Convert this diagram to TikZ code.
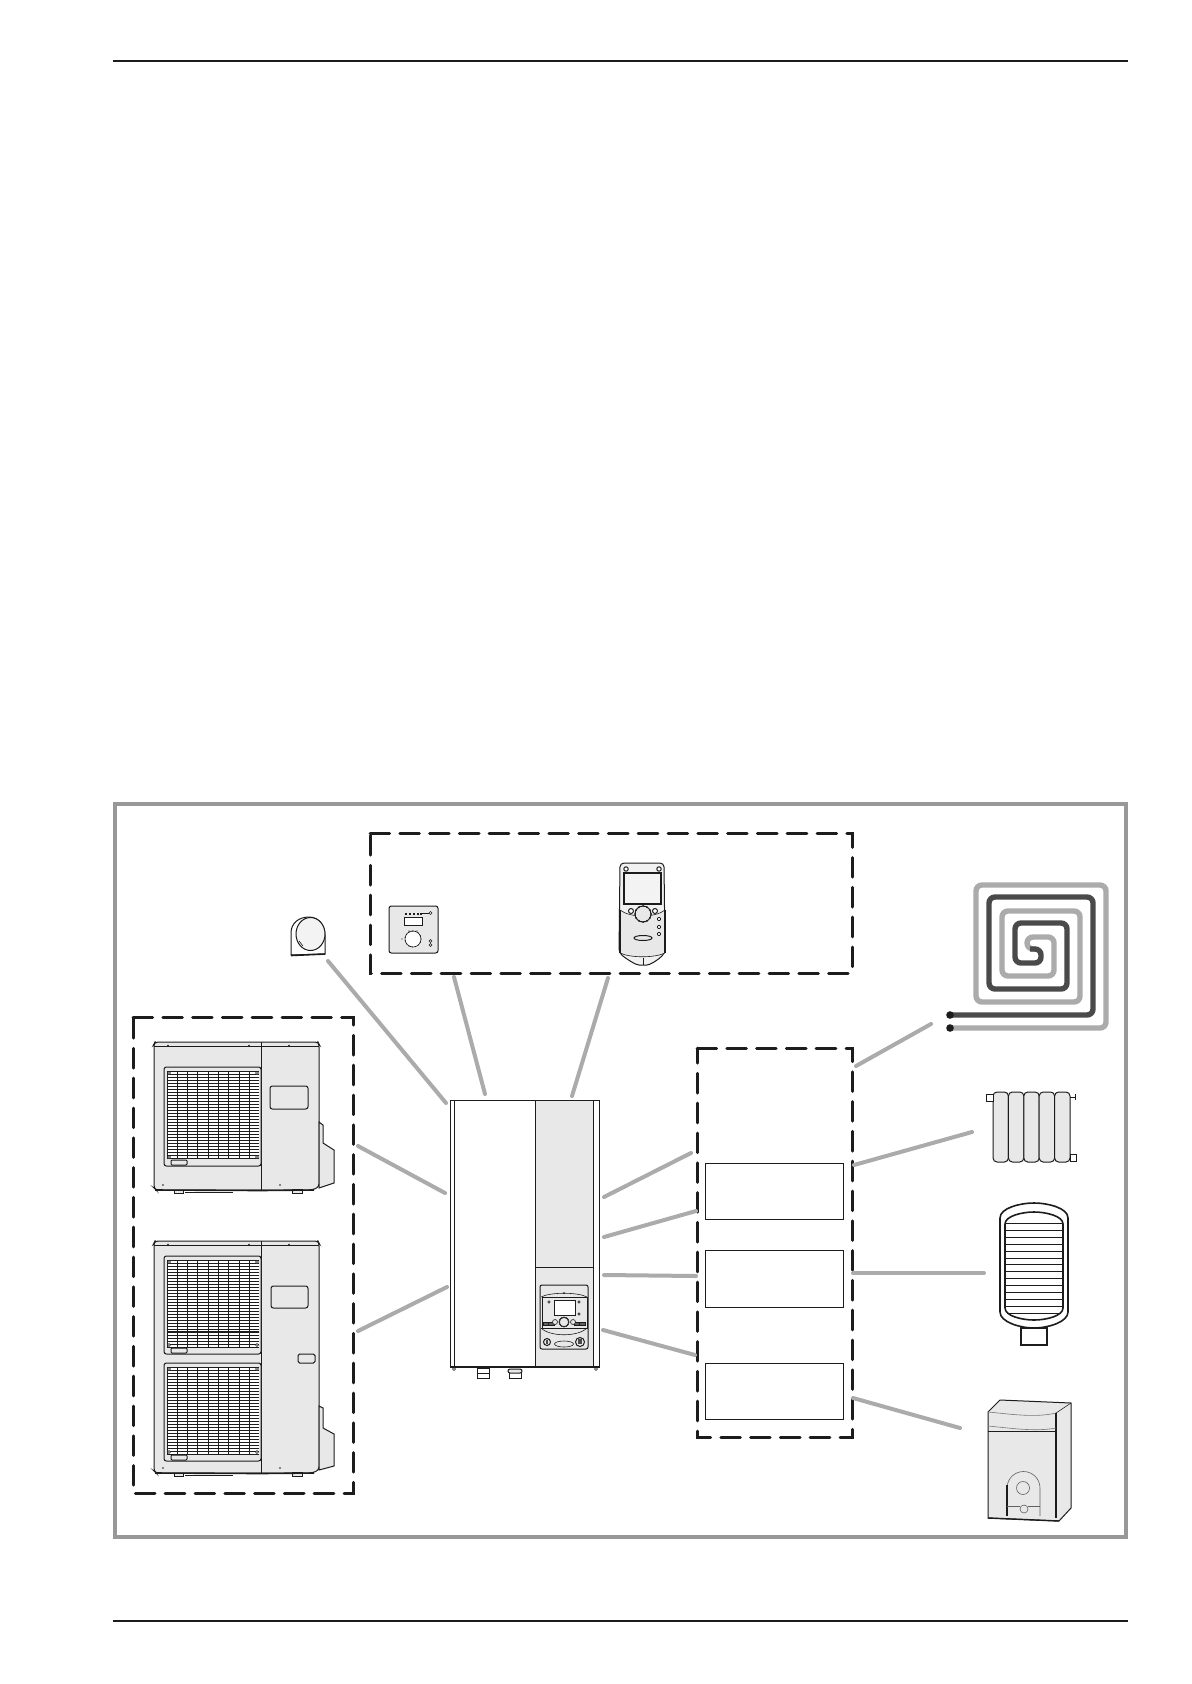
\documentclass[tikz,border=0pt]{standalone}
\usetikzlibrary{positioning,calc}
\definecolor{panelgray}{HTML}{E8E8E8}
\definecolor{wiregray}{HTML}{ABABAB}
\definecolor{framegray}{HTML}{989898}
\definecolor{darkcoil}{HTML}{4A4A4A}
\definecolor{inkblack}{HTML}{1C1C1C}
\tikzset{
  wire/.style={draw=wiregray,line width=2pt,line cap=round},
  dashbox/.style={draw=inkblack,line width=1.5pt,dash pattern=on 9.8pt off 5.1pt,line cap=round},
  devline/.style={draw=inkblack,line width=0.5pt},
  thinline/.style={draw=inkblack,line width=0.3pt},
  innerbox/.style={draw=inkblack,line width=0.4pt,minimum width=69pt,minimum height=28pt,inner sep=0pt,anchor=north west},
  pics/grillepanel/.style={code={
    \draw[devline,fill=panelgray,rounded corners=1.2pt] (0,0) rectangle (97,#1);
    \fill[white] (3,4) rectangle (95,#1-7);
    \foreach \yy in {4,7,...,92} \draw[thinline,line width=0.45pt] (3,\yy) -- (95,\yy);
    \foreach \xx in {3,13.3,...,95} \draw[thinline,line width=0.45pt] (\xx,4) -- (\xx,#1-7);
    \foreach \xx/\yy in {5/6,93/6,5/#1-9,93/#1-9} \draw[thinline,fill=panelgray] (\xx,\yy) circle[radius=1.5];
    \draw[devline,fill=panelgray,rounded corners=0.5pt] (7,#1-6) rectangle (23,#1-1);
  }},
  pics/outdoorbody/.style={code={
    \draw[devline,fill=panelgray,rounded corners=1.5pt] (0,2) -- (1,0) -- (164,0) -- (165,2) -- (165,#1-3) -- (158,#1) -- (2,#1) -- (0,#1-2) -- cycle;
    \draw[thinline] (0,4) -- (165,4);
    \draw[devline] (107,0) -- (107,#1);
    \foreach \xx in {14,95,135} \fill[inkblack] (\xx,3.5) circle[radius=0.9];
    \foreach \xx in {9,126} \fill[inkblack] (\xx,#1-5) circle[radius=0.9];
    \draw[devline,fill=panelgray] (20,#1) rectangle (29,#1+3);
    \draw[devline,fill=panelgray] (138,#1-1) rectangle (148,#1+3);
    \draw[thinline] (31,#1+2) -- (79,#1+2);
    \draw[devline,line width=0.8pt] (1,#1) -- (107,#1+0.5) -- (160,#1);
  }}
}
\begin{document}
\begin{tikzpicture}[x=0.5pt,y=-0.5pt]
\useasboundingbox (0,0) rectangle (1191,1684);
\fill[white] (0,0) rectangle (1191,1684);

% page rules and frame
\draw[inkblack,line width=0.55pt] (113,61) -- (1128,61);
\draw[inkblack,line width=0.55pt] (113,1621) -- (1128,1621);
\draw[framegray,line width=1.8pt] (115,804) rectangle (1126,1537);

% dashed groups
\draw[dashbox] (370,833) -- (852,833) -- (852,973) -- (370,973) -- cycle;
\draw[dashbox] (133,1017) -- (353,1017) -- (353,1493) -- (133,1493) -- cycle;
\draw[dashbox] (697,1048) -- (852,1048) -- (852,1437) -- (697,1437) -- cycle;
\node[innerbox] (bufferbox) at (705,1163) {};
\node[innerbox,minimum height=28.5pt] (tankbox) at (705,1250) {};
\node[innerbox] (boilerbox) at (705,1363) {};

% outdoor unit, single fan
\begin{scope}[shift={(154,1042)}]
  \pic {outdoorbody=148};
  \pic at (10,25) {grillepanel=99};
  \draw[devline,rounded corners=1.2pt] (116,44) rectangle (154,67);
  \draw[devline,fill=panelgray] (165,80) -- (169,83) -- (169,101) -- (180,108) -- (180,141) -- (165,146) -- cycle;
\end{scope}

% outdoor unit, two fans
\begin{scope}[shift={(154,1241)}]
  \pic {outdoorbody=232};
  \pic at (10,15) {grillepanel=98};
  \pic at (10,122) {grillepanel=98};
  \draw[inkblack,line width=0.9pt] (13,91) -- (105,91);
  \draw[devline,rounded corners=1.2pt] (117,45) rectangle (154,67);
  \draw[devline,rounded corners=0.8pt] (144,113) rectangle (161,122);
  \draw[devline,fill=panelgray] (165,165) -- (169,167) -- (169,187) -- (180,193) -- (180,225) -- (165,229) -- cycle;
\end{scope}

% indoor unit
\draw[devline,fill=panelgray] (535,1100) rectangle (593,1367);
\draw[devline] (450,1100) rectangle (599,1367);
\draw[devline] (454,1100) -- (454,1367);
\draw[devline] (535,1267) -- (593,1267);
\draw[devline,line width=1pt] (450,1367) -- (599,1367);
\foreach \xx in {454,596} \draw[thinline] (\xx,1369) circle[radius=1.5];
\draw[devline] (477,1368) rectangle (489,1378);
\draw[devline] (477,1373) -- (489,1373);
\draw[devline] (509,1370) rectangle (521,1378);
\draw[devline,fill=panelgray,rounded corners=1pt] (508,1369) rectangle (522,1373);
% indoor unit control panel
\draw[devline,rounded corners=1pt] (540,1285) rectangle (588,1349);
\draw[thinline] (541,1297) .. controls (550,1292) and (578,1292) .. (587,1297);
\fill[inkblack] (564,1293) circle[radius=1];
\draw[devline] (542,1297) rectangle (587,1328);
\draw[devline,fill=white] (554,1300) rectangle (575,1315);
\foreach \xx/\yy in {549/1302,579/1302,579/1314} \draw[thinline] (\xx,\yy) circle[radius=1.2];
\foreach \xx in {546,551,577,582} \draw[thinline,fill=inkblack!70] (\xx-3,1322) rectangle (\xx+3,1325);
\draw[thinline,fill=panelgray] (555,1322) circle[radius=2.5] (573,1322) circle[radius=2.5];
\draw[thinline,fill=panelgray] (564,1322) circle[radius=5];
\foreach \aa in {0,30,...,330} \fill[inkblack] ({564+4.5*cos(\aa)},{1322+4.5*sin(\aa)}) circle[radius=0.9];
\draw[thinline] (541,1328) .. controls (550,1337) and (578,1337) .. (587,1328);
\draw[devline,fill=panelgray] (547,1342) circle[radius=3.5];
\draw[devline,fill=panelgray] (580,1342) circle[radius=4.5];
\fill[inkblack!80] (546,1340) rectangle (548,1344);
\fill[inkblack!80] (578,1339) rectangle (582,1344);
\draw[thinline] (564,1344) ellipse[x radius=9.5,y radius=3];

% room sensor
\draw[devline,fill=white] (291,955) -- (291,933) .. controls (291,923) and (299,917) .. (309,917) .. controls (319,917) and (325,926) .. (325,935) -- (325,954) -- cycle;
\draw[devline,fill=panelgray!50] (310.5,934) ellipse[x radius=14.5,y radius=16.5];
\draw[devline,line width=0.8pt] (291,955.5) -- (325,954);
\draw[thinline] (299,941) -- (303,946);

% wall thermostat
\draw[devline,fill=panelgray,rounded corners=1.2pt] (389,906) rectangle (438,953);
\draw[thinline,fill=white] (404,917) rectangle (422,925);
\foreach \xx in {405,409,413,417,420} \fill[inkblack] (\xx,913) rectangle +(1.8,1.8);
\draw[thinline] (420,913.5) -- (429,913.5);
\draw[thinline,fill=white] (430.5,913) circle[radius=1.5];
\draw[thinline,fill=white] (413,939) circle[radius=8];
\foreach \aa in {0,24,...,336} \fill[inkblack] ({413+8*cos(\aa)},{939+8*sin(\aa)}) circle[radius=0.6];
\foreach \xx in {409,413,417} \fill[inkblack] (\xx,931) circle[radius=0.6];
\fill[inkblack] (402,939) circle[radius=0.6];
\draw[thinline] (430.5,941) circle[radius=1.5] (430.5,945) circle[radius=1.5];

% remote control
\draw[devline,fill=panelgray!60,rounded corners=2pt] (620,863) -- (664,863) -- (665,953) .. controls (658,960) and (650,965) .. (643,965) .. controls (636,965) and (628,960) .. (619,953) -- cycle;
\fill[panelgray] (620,910) .. controls (630,918) and (655,918) .. (665,910) -- (665,953) .. controls (655,958) and (630,958) .. (620,953) -- cycle;
\draw[inkblack,line width=1pt,fill=panelgray!50] (624,873) rectangle (661,904);
\draw[devline,fill=white] (626,869) circle[radius=2.2] (659,869) circle[radius=2.2];
\draw[inkblack,line width=1pt] (619.5,910) -- (619.5,953) (665,910) -- (665,953);
\draw[thinline] (620,953) .. controls (630,958) and (655,958) .. (665,953);
\draw[thinline] (643,958) -- (643,965);
\draw[thinline] (620,910) .. controls (630,918) and (655,918) .. (665,910);
\draw[devline,fill=white] (631,911) circle[radius=2.5] (655,911) circle[radius=2.5];
\draw[devline,fill=panelgray] (643,914) circle[radius=8];
\foreach \aa in {0,30,...,330} \fill[inkblack] ({643+8*cos(\aa)},{914+8*sin(\aa)}) circle[radius=1];
\foreach \yy in {919,927,934} \draw[thinline,rounded corners=0.4pt] (657.5,\yy-1.5) rectangle (660.5,\yy+1.5);
\draw[devline] (643,938) ellipse[x radius=9,y radius=2.5];

% floor coil
\draw[wiregray,line width=2.7pt,rounded corners=3pt] (950,1028) -- (1106,1028) -- (1106,885) -- (976,885) -- (976,1002) -- (1080,1002) -- (1080,911) -- (1002,911) -- (1002,976) -- (1054,976) -- (1054,937) -- (1027,937) -- (1027,949) -- (1036,949);
\draw[darkcoil,line width=2.7pt,rounded corners=3pt] (950,1015) -- (1093,1015) -- (1093,897) -- (989,897) -- (989,989) -- (1067,989) -- (1067,923) -- (1015,923) -- (1015,963) -- (1041,963) -- (1041,949) -- (1030,949);
\fill[inkblack] (950,1015) circle[radius=3.8] (950,1028) circle[radius=3.8];

% radiator
\foreach \xx in {993,1008.4,1023.8,1039.2,1054.6} \draw[devline,fill=panelgray,rounded corners=2pt] (\xx,1092) rectangle (\xx+15.4,1162);
\draw[thinline,fill=white] (986,1094) rectangle (993,1101);
\draw[thinline,fill=white] (1070,1154) rectangle (1076,1161);
\draw[thinline] (1070,1097) -- (1075,1097) (1075,1094) -- (1075,1100);

% storage tank
\draw[devline,line width=0.8pt] (1021,1328) rectangle (1047,1345);
\draw[devline,line width=0.8pt,fill=white] (1000,1218) .. controls (1000,1208) and (1020,1203) .. (1034,1203) .. controls (1048,1203) and (1068,1208) .. (1068,1218) -- (1068,1312) .. controls (1068,1322) and (1048,1328) .. (1034,1328) .. controls (1020,1328) and (1000,1322) .. (1000,1312) -- cycle;
\begin{scope}
  \clip (1005,1224) .. controls (1005,1216) and (1022,1212) .. (1034,1212) .. controls (1046,1212) and (1063,1216) .. (1063,1224) -- (1063,1308) .. controls (1063,1316) and (1046,1320) .. (1034,1320) .. controls (1022,1320) and (1005,1316) .. (1005,1308) -- cycle;
  \foreach \yy in {1223.3,1230.2,...,1316} \draw[thinline] (1005,\yy) -- (1063,\yy);
\end{scope}
\draw[devline,line width=0.8pt] (1005,1224) .. controls (1005,1216) and (1022,1212) .. (1034,1212) .. controls (1046,1212) and (1063,1216) .. (1063,1224) -- (1063,1308) .. controls (1063,1316) and (1046,1320) .. (1034,1320) .. controls (1022,1320) and (1005,1316) .. (1005,1308) -- cycle;

% boiler
\draw[devline,fill=panelgray] (988,1412) -- (1000,1400) -- (1071,1403) -- (1071,1508) -- (1059,1521) -- (988,1518) -- cycle;
\draw[thinline,draw=inkblack!60] (988,1412) .. controls (1010,1414) and (1035,1418) .. (1056,1413);
\draw[thinline] (1056,1413) -- (1071,1403);
\draw[inkblack,line width=0.9pt] (1056,1413) -- (1056,1518);
\draw[thinline,draw=inkblack!60] (988,1426) .. controls (1010,1428) and (1035,1432) .. (1056,1428);
\draw[thinline] (988,1431) -- (1056,1431);
\draw[thinline,draw=inkblack!70] (1007,1516) -- (1007,1488) arc[start angle=180,end angle=360,radius=16.5] -- (1040,1516);
\draw[inkblack,line width=0.9pt] (1007,1485) -- (1007,1516);
\draw[thinline,draw=inkblack!70] (1023,1488) circle[radius=6.5];
\draw[thinline,draw=inkblack!70,fill=panelgray] (1024,1509) circle[radius=4];
\draw[thinline,draw=inkblack!70] (1007,1506) -- (1020,1506) (1028,1506) -- (1040,1506);
\draw[devline,line width=0.7pt] (988,1518) -- (1059,1521);

% connector ends
\coordinate (sensorend) at (328,961);
\coordinate (sensorunit) at (446,1103);
\coordinate (thermoend) at (454,977);
\coordinate (thermounit) at (485,1094);
\coordinate (remoteend) at (608,978);
\coordinate (remoteunit) at (572,1096);
\coordinate (singleend) at (358,1146);
\coordinate (singleunit) at (445,1193);
\coordinate (doubleend) at (358,1331);
\coordinate (doubleunit) at (447,1287);
\coordinate (unitone) at (604,1197);
\coordinate (groupone) at (691,1153);
\coordinate (unittwo) at (604,1237);
\coordinate (grouptwo) at (696,1211);
\coordinate (unitthree) at (604,1275);
\coordinate (groupthree) at (696,1276);
\coordinate (unitfour) at (603,1330);
\coordinate (groupfour) at (695,1355);
\coordinate (coilgroup) at (856,1066);
\coordinate (coilend) at (931,1024);
\coordinate (radgroup) at (854,1165);
\coordinate (radend) at (972,1132);
\coordinate (tankgroup) at (853,1273);
\coordinate (tankend) at (984,1273);
\coordinate (boilergroup) at (853,1398);
\coordinate (boilerend) at (960,1428);

\draw[wire] (sensorend) -- (sensorunit);
\draw[wire] (thermoend) -- (thermounit);
\draw[wire] (remoteend) -- (remoteunit);
\draw[wire] (singleend) -- (singleunit);
\draw[wire] (doubleend) -- (doubleunit);
\draw[wire] (unitone) -- (groupone);
\draw[wire] (unittwo) -- (grouptwo);
\draw[wire] (unitthree) -- (groupthree);
\draw[wire] (unitfour) -- (groupfour);
\draw[wire] (coilgroup) -- (coilend);
\draw[wire] (radgroup) -- (radend);
\draw[wire] (tankgroup) -- (tankend);
\draw[wire] (boilergroup) -- (boilerend);
\end{tikzpicture}
\end{document}
